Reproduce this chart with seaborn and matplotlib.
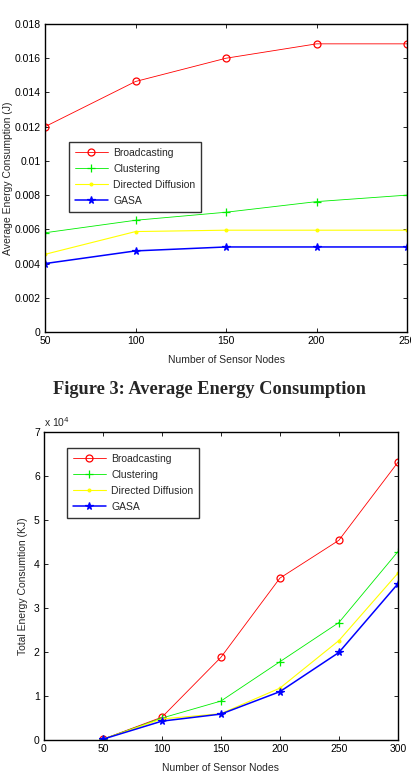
import matplotlib
matplotlib.use("Agg")
import matplotlib.pyplot as plt
from matplotlib.ticker import FuncFormatter, MultipleLocator
import seaborn as sns

# figure 3 (top): average energy consumption
nodes_avg = [50, 100, 150, 200, 250]
avg_broadcasting = [0.0120, 0.01464, 0.0160, 0.01684, 0.01684]
avg_clustering = [0.0058, 0.00653, 0.0070, 0.00762, 0.0080]
avg_directed = [0.00454, 0.00587, 0.00595, 0.00595, 0.00595]
avg_gasa = [0.0040, 0.00474, 0.00497, 0.00497, 0.00497]

# bottom: total energy consumption
nodes_tot = [50, 100, 150, 200, 250, 300]
tot_broadcasting = [200, 5200, 18800, 36800, 45400, 63100]
tot_clustering = [200, 5000, 8860, 17800, 26700, 42800]
tot_directed = [200, 4800, 6000, 11800, 22600, 37900]
tot_gasa = [200, 4300, 5900, 11000, 19900, 35500]

series_names = ["Broadcasting", "Clustering", "Directed Diffusion", "GASA"]
colors = ["#ff0000", "#00ee00", "#ffff00", "#0000ff"]
markers = ["o", "+", ".", "*"]
widths = [0.6, 0.6, 0.8, 1.1]
msizes = [5, 6, 4, 5.5]

sns.set_style("white")
plt.rcParams["font.family"] = ["Liberation Sans", "DejaVu Sans"]
plt.rcParams["xtick.direction"] = "in"
plt.rcParams["ytick.direction"] = "in"

fig = plt.figure(figsize=(4.11, 7.79), dpi=100)
ax_top = fig.add_axes([0.1095, 0.5738, 0.881, 0.3954])
ax_bot = fig.add_axes([0.107, 0.050, 0.861, 0.3954])


def draw(ax, x, ys, anchor):
    for y, name, c, m, w, ms in zip(ys, series_names, colors, markers, widths, msizes):
        sns.lineplot(x=x, y=y, ax=ax, color=c, marker=m, linewidth=w, markersize=ms,
                     markerfacecolor="none" if m == "o" else c,
                     markeredgecolor=c, markeredgewidth=0.9, label=name)
    for s in ax.spines.values():
        s.set_linewidth(1.0)
        s.set_color("black")
    ax.tick_params(axis="both", which="both", top=True, right=True, bottom=True, left=True,
                   length=3, width=0.6, labelsize=7.5, pad=3, colors="black")
    leg = ax.legend(fontsize=7.5, frameon=True, fancybox=False, loc="upper left",
                    bbox_to_anchor=anchor, borderaxespad=0,
                    borderpad=0.55, labelspacing=0.58, handlelength=3.2, handletextpad=0.5)
    leg.get_frame().set_edgecolor("black")
    leg.get_frame().set_linewidth(1.0)
    return leg


draw(ax_top, nodes_avg, [avg_broadcasting, avg_clustering, avg_directed, avg_gasa], (0.066, 0.617))
ax_top.set_xlim(50, 250)
ax_top.set_ylim(0, 0.018)
ax_top.xaxis.set_major_locator(MultipleLocator(50))
ax_top.yaxis.set_major_locator(MultipleLocator(0.002))
ax_top.yaxis.set_major_formatter(FuncFormatter(lambda v, p: "%g" % round(v, 4)))
ax_top.set_xlabel("Number of Sensor Nodes", fontsize=7.5, labelpad=6)
ax_top.set_ylabel("Average Energy Consumption (J)", fontsize=7.5, labelpad=1)

draw(ax_bot, nodes_tot, [tot_broadcasting, tot_clustering, tot_directed, tot_gasa], (0.065, 0.948))
ax_bot.set_xlim(0, 300)
ax_bot.set_ylim(0, 70000)
ax_bot.xaxis.set_major_locator(MultipleLocator(50))
ax_bot.yaxis.set_major_locator(MultipleLocator(10000))
ax_bot.yaxis.set_major_formatter(FuncFormatter(lambda v, p: "%g" % (v / 1e4)))
ax_bot.set_xlabel("Number of Sensor Nodes", fontsize=7.5, labelpad=6)
ax_bot.set_ylabel("Total Energy Consumtion (KJ)", fontsize=7.5, labelpad=4)
ax_bot.text(0.0, 1.01, r"x 10$^{4}$", transform=ax_bot.transAxes, fontsize=7.5, ha="left", va="bottom")

fig.text(0.509, 1 - 389 / 779, "Figure 3: Average Energy Consumption", ha="center", va="center",
         fontsize=13.2, fontweight="bold", family=["Liberation Serif", "DejaVu Serif"])

fig.savefig("out.png", dpi=100)
